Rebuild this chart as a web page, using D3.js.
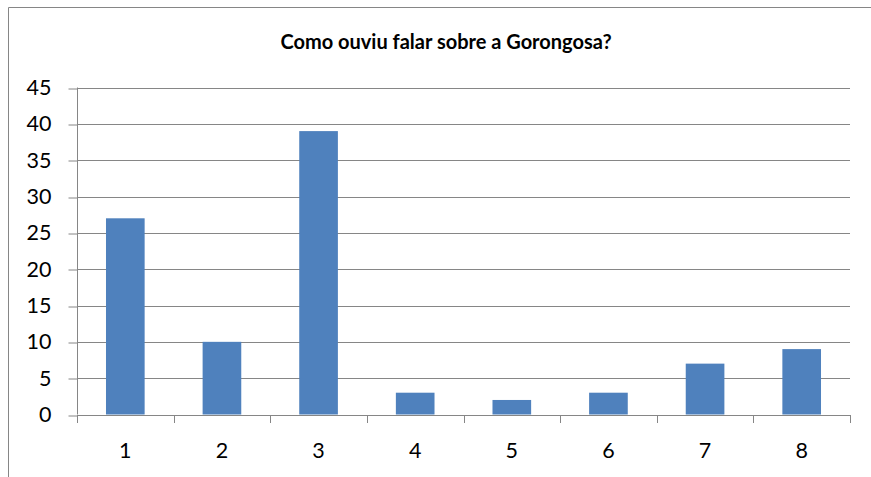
<!DOCTYPE html>
<html><head><meta charset="utf-8">
<script src="https://cdn.jsdelivr.net/npm/d3@7"></script>
<style>body{margin:0;background:#fff}svg{display:block}text{font-family:Lato,"Open Sans",sans-serif}</style>
</head><body><svg id="c" width="871" height="477"></svg>
<script>
const categories = ["1","2","3","4","5","6","7","8"];
const values = [27,10,39,3,2,3,7,9];
const yTicks = [0,5,10,15,20,25,30,35,40,45];
const title = "Como ouviu falar sobre a Gorongosa?";

const svg = d3.select("#c");
const m = {left:77, right:850, top:87.5, bottom:414.5};
const xb = d3.scaleBand().domain(categories).range([m.left, m.right]);
const y = d3.scaleLinear().domain([0,45]).range([m.bottom, m.top]);
const grey = "#868686";

// frame
svg.append("path").attr("d","M8.5,477 V7.5 H871").attr("fill","none").attr("stroke",grey).attr("stroke-width",1);

svg.append("text").attr("x",446).attr("y",48.5).attr("text-anchor","middle")
  .attr("font-weight","bold").attr("font-size",20).attr("fill","#000").text(title);

// gridlines
svg.append("g").selectAll("line").data(yTicks.filter(d=>d>0)).join("line")
  .attr("x1",m.left).attr("x2",m.right)
  .attr("y1",d=>Math.round(y(d))+0.5).attr("y2",d=>Math.round(y(d))+0.5)
  .attr("stroke",grey).attr("stroke-width",1);

// bars
svg.append("g").selectAll("rect").data(values).join("rect")
  .attr("x",(d,i)=>xb(categories[i]) + (xb.bandwidth()-xb.bandwidth()/2.5)/2)
  .attr("width",xb.bandwidth()/2.5)
  .attr("y",d=>y(d)).attr("height",d=>m.bottom-y(d))
  .attr("fill","#4F81BD");

// y axis
const ya = svg.append("g").attr("transform",`translate(${m.left+0.5},0)`)
  .call(d3.axisLeft(y).tickValues(yTicks).tickSize(9).tickPadding(17).tickFormat(d3.format("d")));
ya.select(".domain").attr("stroke",grey).attr("d",`M0,${m.top}V${m.bottom}`);
ya.selectAll(".tick line").attr("stroke",grey).attr("transform",d=>`translate(0,${Math.round(y(d))+0.5-y(d)})`);
ya.selectAll(".tick text").attr("font-size",21.5).attr("font-family","Lato").attr("fill","#000");

// x axis
const xa = svg.append("g").attr("transform",`translate(0,${Math.round(m.bottom)+0.5})`)
  .call(d3.axisBottom(xb).tickSize(0).tickPadding(0));
xa.select(".domain").attr("stroke",grey).attr("d",`M${m.left},0H${m.right}`);
xa.selectAll(".tick text").attr("font-size",21.5).attr("font-family","Lato").attr("fill","#000").attr("dy","42");
// category separators
svg.append("g").selectAll("line").data(d3.range(categories.length+1)).join("line")
  .attr("x1",i=>Math.round(m.left + i*xb.step())+0.5).attr("x2",i=>Math.round(m.left + i*xb.step())+0.5)
  .attr("y1",Math.round(m.bottom)).attr("y2",Math.round(m.bottom)+8)
  .attr("stroke",grey);
</script></body></html>
